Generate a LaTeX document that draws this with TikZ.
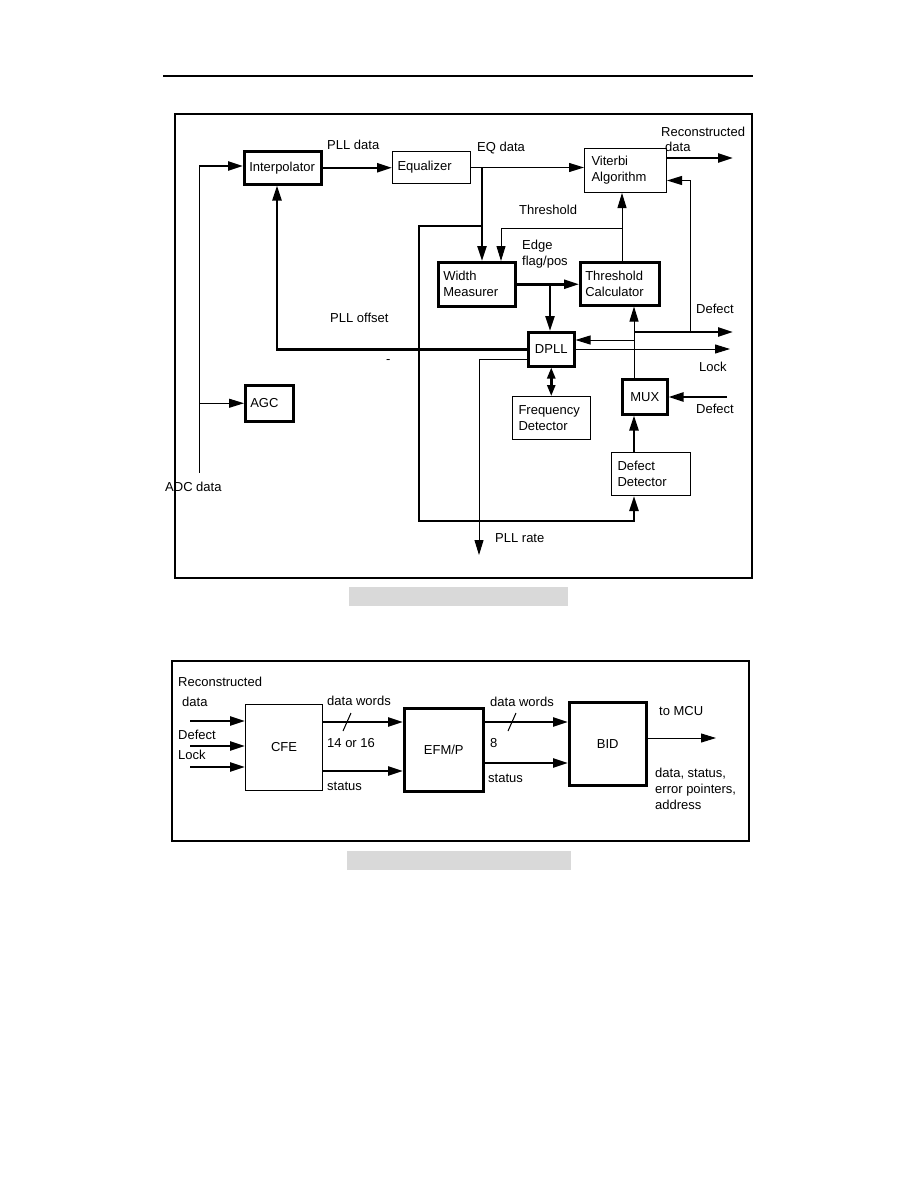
\documentclass[tikz,border=0pt]{standalone}
\usepackage{fontspec}
\setmainfont{Liberation Sans}
\usetikzlibrary{arrows.meta,positioning}
\newcommand{\blkfont}{\fontsize{13}{16}\selectfont}

\begin{document}
\begin{tikzpicture}[x=1pt, y=-1pt,
  every node/.style={font=\blkfont},
  blk/.style={draw, line width=1pt, anchor=north west, align=left, inner xsep=5pt, inner ysep=0pt},
  tblk/.style={blk, line width=2.5pt},
  txt/.style={anchor=west, inner sep=0pt},
  thn/.style={line width=1pt},
  thk/.style={line width=2.5pt},
  arr/.style={-{Triangle[length=15pt,width=9pt]}},
  darr/.style={{Triangle[length=11pt,width=8pt]}-{Triangle[length=11pt,width=8pt]}}]
\useasboundingbox (0,0) rectangle (918,1188);
\draw[line width=1.5pt] (163,76) -- (753,76);
\draw[thk] (175,114) rectangle (752,578);
\draw[thk] (172,661) rectangle (749,841);
\fill[black!15] (349,587) rectangle (568,606);
\fill[black!15] (347,851) rectangle (571,870);

% upper block diagram
\node[tblk, text width=67pt, minimum height=33pt] (interp) at (243,150) {Interpolator};
\node[blk, text width=68pt, minimum height=32pt] (eq) at (392,151) {Equalizer};
\node[blk, text width=68pt, minimum height=44pt, inner xsep=7pt] (vit) at (584,148) {Viterbi\\Algorithm};
\node[tblk, text width=67pt, minimum height=44pt] (wid) at (437,261) {Width\\Measurer};
\node[tblk, text width=69pt, minimum height=43pt] (thc) at (579,261) {Threshold\\Calculator};
\node[tblk, text width=36pt, minimum height=34pt, align=center] (dpll) at (527,331) {DPLL};
\node[blk, text width=66pt, minimum height=43pt, inner xsep=6pt] (freq) at (512,396) {Frequency\\Detector};
\node[tblk, text width=35pt, minimum height=35pt, align=center] (mux) at (621,378) {MUX};
\node[blk, text width=67pt, minimum height=43pt, inner xsep=6pt] (dd) at (611,452) {Defect\\Detector};
\node[tblk, text width=38pt, minimum height=36pt] (agc) at (244,384) {AGC};

\coordinate (adctop) at (199,166);
\coordinate (adcbot) at (199,473);
\coordinate (eqb) at (482,168);
\coordinate (lp1) at (419,226);
\coordinate (lp2) at (419,521);
\coordinate (ddin) at (634,521);
\coordinate (thx) at (622,228);
\coordinate (thl) at (501,228);
\coordinate (edb) at (550,283);
\coordinate (pllo) at (277,347);
\coordinate (rate) at (479,555);
\coordinate (bus) at (634,332);
\coordinate (fb) at (634,340);
\coordinate (dfo) at (733,332);
\coordinate (dfv) at (690,332);
\coordinate (lk) at (730,349);
\coordinate (dfi) at (727,397);
\coordinate (rd) at (733,158);

\draw[thn] (adctop) -- (adcbot);
\draw[thk, arr] (adctop) -- (adctop -| interp.west);
\draw[thn, arr] (agc.west -| adctop) -- (agc.west);
\draw[thk, arr] (interp.east) -- (interp.east -| eq.west);
\draw[thn, arr] (eq.east) -- (eq.east -| vit.west);
\draw[thk, arr] (eqb) -- (eqb |- wid.north);
\draw[thk, arr] (eqb |- lp1) -- (lp1) -- (lp2) -- (ddin) -- (ddin |- dd.south);
\draw[thn, arr] (thc.north -| thx) -- (vit.south -| thx);
\draw[thn, arr] (thx) -- (thl) -- (thl |- wid.north);
\draw[thk, arr] (wid.east) -- (wid.east -| thc.west);
\draw[thk, arr] (edb) -- (edb |- dpll.north);
\draw[thk, arr] (dpll.west) -- (pllo |- dpll.west) -- (pllo |- interp.south);
\draw[thn, arr] ([yshift=-10pt]dpll.west) -| (rate);
\draw[thk, darr] (dpll.south) -- (dpll.south |- freq.north);
\draw[thn, arr] (mux.north -| bus) -- (thc.south -| bus);
\draw[thn, arr] (fb) -- (fb -| dpll.east);
\draw[thk, arr] (bus) -- (dfo);
\draw[thn, arr] (dfv) |- ([yshift=-10pt]vit.east);
\draw[thn, arr] (dpll.east |- lk) -- (lk);
\draw[thk, arr] (dfi) -- (dfi -| mux.east);
\draw[thk, arr] (dd.north -| bus) -- (mux.south -| bus);
\draw[thk, arr] (vit.east |- rd) -- (rd);

\node[txt] (lpll) at (327,145) {PLL data};
\node[txt] (leq) at (477,148) {EQ data};
\node[txt] (lrec) at (661,132) {Reconstructed};
\node[txt] (lrecd) at (665,147) {data};
\node[txt] (lth) at (519,210) {Threshold};
\node[txt, align=left] (ledge) at (522,254) {Edge\\flag/pos};
\node[txt] (loff) at (330,318) {PLL offset};
\node[txt] (ldef) at (696,309) {Defect};
\node[txt] (llock) at (699,367) {Lock};
\node[txt] (ldefi) at (696,409) {Defect};
\node[txt] (lrate) at (495,538) {PLL rate};
\node[txt] (ladc) at (165,487) {ADC data};
\node[txt] (dot) at (386,362) {-};

% lower block diagram
\node[blk, text width=67pt, minimum height=86pt, align=center] (cfe) at (245,704) {CFE};
\node[tblk, text width=69pt, minimum height=83pt, align=center] (efm) at (403,707) {EFM/P};
\node[tblk, text width=67pt, minimum height=83pt, align=center] (bid) at (568,701) {BID};

\coordinate (in1) at (190,721);
\coordinate (in2) at (190,746);
\coordinate (in3) at (190,767);
\coordinate (st1) at (360,771);
\coordinate (st2) at (520,763);
\coordinate (sl1) at (347,722);
\coordinate (sl2) at (512,722);
\coordinate (mcu) at (716,738);

\draw[thk, arr] (in1) -- (in1 -| cfe.west);
\draw[thk, arr] (in2) -- (in2 -| cfe.west);
\draw[thk, arr] (in3) -- (in3 -| cfe.west);
\draw[thk, arr] (cfe.east |- sl1) -- (efm.west |- sl1);
\draw[thn] ([shift={(-4,9)}]sl1) -- ([shift={(4,-9)}]sl1);
\draw[thk, arr] (cfe.east |- st1) -- (efm.west |- st1);
\draw[thk, arr] (efm.east |- sl2) -- (bid.west |- sl2);
\draw[thn] ([shift={(-4,9)}]sl2) -- ([shift={(4,-9)}]sl2);
\draw[thk, arr] (efm.east |- st2) -- (bid.west |- st2);
\draw[thn, arr] (bid.east |- mcu) -- (mcu);

\node[txt] (brec) at (178,682) {Reconstructed};
\node[txt] (bdat) at (182,702) {data};
\node[txt] (bdef) at (178,735) {Defect};
\node[txt] (block) at (178,755) {Lock};
\node[txt] (bdw1) at (327,701) {data words};
\node[txt] (bw1) at (327,743) {14 or 16};
\node[txt] (bst1) at (327,786) {status};
\node[txt] (bdw2) at (490,702) {data words};
\node[txt] (bw2) at (490,743) {8};
\node[txt] (bst2) at (488,778) {status};
\node[txt] (bmcu) at (659,711) {to MCU};
\node[txt, anchor=north west, align=left] (bout) at (655,768) {data, status,\\error pointers,\\address};
\end{tikzpicture}
\end{document}
